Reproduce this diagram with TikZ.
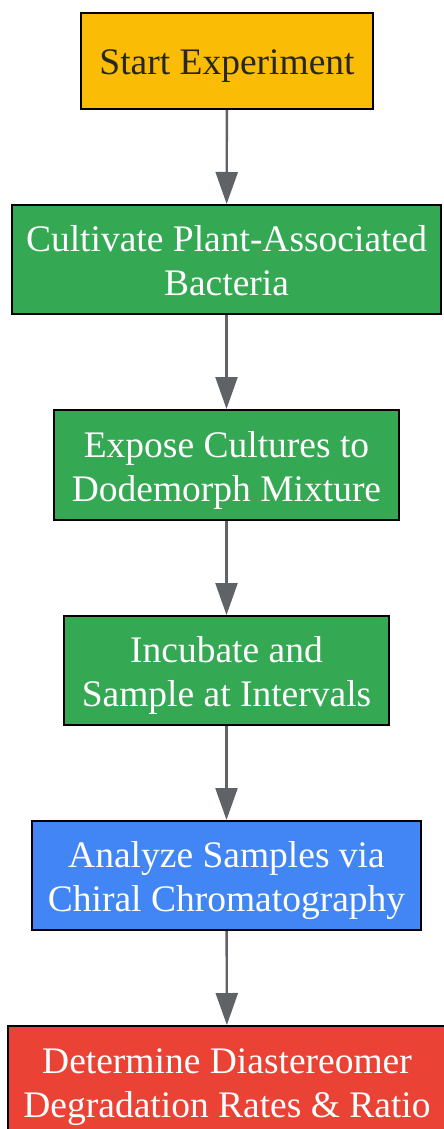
\documentclass[tikz,border=0pt]{standalone}
\usepackage{fontspec}
\setmainfont{Liberation Serif}
\usetikzlibrary{arrows.meta}
\definecolor{startyellow}{HTML}{FBBC05}
\definecolor{stepgreen}{HTML}{34A853}
\definecolor{analyzeblue}{HTML}{4285F4}
\definecolor{endred}{HTML}{EA4335}
\definecolor{arrowgray}{HTML}{5F6368}
\begin{document}
\begin{tikzpicture}[x=1pt, y=-1pt,
    box/.style={draw=black, line width=2pt, inner sep=0pt, align=center,
      font=\fontsize{37.5}{44}\selectfont, text=white,
      text height=36pt, text depth=8pt},
    twoline/.style={box, text height=80pt},
    flow/.style={draw=arrowgray, line width=2.4pt,
      -{Triangle[length=32pt, width=22pt]}}]

	\useasboundingbox (0,0) rectangle (444,1129);

	% the steps, top to bottom
	\node[box, fill=startyellow, text=black!85, minimum width=292pt, minimum height=96pt]
	  (start) at (227,61) {Start Experiment};
	\node[twoline, fill=stepgreen, minimum width=429pt, minimum height=109pt]
	  (cultivate) at (226.5,259.5) {Cultivate Plant-Associated\\Bacteria};
	\node[twoline, fill=stepgreen, minimum width=345pt, minimum height=110pt]
	  (expose) at (226.5,465) {Expose Cultures to\\Dodemorph Mixture};
	\node[twoline, fill=stepgreen, minimum width=325pt, minimum height=109pt]
	  (incubate) at (226.5,670.5) {Incubate and\\Sample at Intervals};
	\node[twoline, fill=analyzeblue, minimum width=389pt, minimum height=109pt]
	  (analyze) at (226.5,875.5) {Analyze Samples via\\Chiral Chromatography};
	\node[twoline, fill=endred, minimum width=438pt, minimum height=110pt]
	  (determine) at (227,1081) {Determine Diastereomer\\Degradation Rates \& Ratio};

	% connectors
	\draw[flow] (start) -- (cultivate);
	\draw[flow] (cultivate) -- (expose);
	\draw[flow] (expose) -- (incubate);
	\draw[flow] (incubate) -- (analyze);
	\draw[flow] (analyze) -- (determine);
\end{tikzpicture}
\end{document}
